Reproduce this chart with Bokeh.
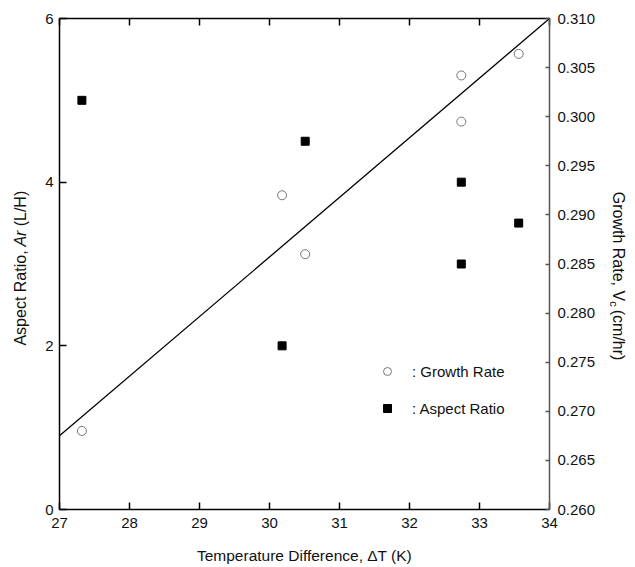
import math
from bokeh.plotting import figure
from bokeh.layouts import row
from bokeh.models import (Range1d, LinearAxis, FixedTicker, Legend,
                          LegendItem, NumeralTickFormatter, ColumnDataSource)
from bokeh.core.properties import value
from bokeh.embed import file_html
from bokeh.resources import INLINE

# ---- data ----
delta_t_ar = [27.32, 30.51, 30.18, 32.74, 33.56, 32.74]
aspect_ratio = [5.0, 4.5, 2.0, 4.0, 3.5, 3.0]
delta_t_gr = [27.32, 30.18, 30.51, 32.74, 32.74, 33.56]
growth_rate = [0.2680, 0.2920, 0.2860, 0.3042, 0.2995, 0.3064]
fit_x = [27.0, 34.0]
fit_y = [0.2675, 0.3100]

x_ticks = [27, 28, 29, 30, 31, 32, 33, 34]
ar_ticks = [0, 2, 4, 6]
gr_ticks = [0.260, 0.265, 0.270, 0.275, 0.280, 0.285, 0.290, 0.295, 0.300, 0.305, 0.310]

FONT = "Liberation Sans"
H = 567
LW, RW = 32, 30          # side strips holding the rotated axis titles
MW = 635 - LW - RW       # main figure width

p = figure(width=MW, height=H, output_backend="svg", toolbar_location=None,
           x_range=Range1d(27, 34), y_range=Range1d(0, 6),
           min_border_left=59 - LW, min_border_right=86 - RW, min_border_top=18,
           min_border_bottom=58, x_axis_location=None, y_axis_location=None)
p.extra_y_ranges = {"gr": Range1d(0.26, 0.31)}
p.grid.visible = False
p.outline_line_color = None
p.border_fill_color = "white"


def style_axis(ax, tick_in, standoff, color="black"):
    ax.major_tick_in = tick_in
    ax.major_tick_out = 0
    ax.minor_tick_line_color = None
    ax.axis_line_color = color
    ax.axis_line_width = 1.5
    ax.major_tick_line_color = color
    ax.major_tick_line_width = 1.5
    ax.major_label_text_font = FONT
    ax.major_label_text_font_size = "15px"
    ax.major_label_text_color = "#111111"
    ax.major_label_standoff = standoff


bottom = LinearAxis(ticker=FixedTicker(ticks=x_ticks))
style_axis(bottom, 7, 8)
bottom.axis_label = "Temperature Difference, \u0394T (K)"
bottom.axis_label_text_font = FONT
bottom.axis_label_text_font_size = "15.5px"
bottom.axis_label_text_font_style = "normal"
bottom.axis_label_text_color = "#111111"
bottom.axis_label_standoff = 16
p.add_layout(bottom, "below")

top = LinearAxis(ticker=FixedTicker(ticks=x_ticks))
style_axis(top, 7, 0)
top.major_label_text_color = None
p.add_layout(top, "above")

left = LinearAxis(ticker=FixedTicker(ticks=ar_ticks))
style_axis(left, 7, 6)
p.add_layout(left, "left")

right = LinearAxis(y_range_name="gr", ticker=FixedTicker(ticks=gr_ticks),
                   formatter=NumeralTickFormatter(format="0.000"))
style_axis(right, 4, 8, color="#555555")
p.add_layout(right, "right")

# fit line
p.line(fit_x, fit_y, y_range_name="gr", line_color="black", line_width=1.3)

gr_src = ColumnDataSource(dict(x=delta_t_gr, y=growth_rate))
ar_src = ColumnDataSource(dict(x=delta_t_ar, y=aspect_ratio))
r_gr = p.scatter("x", "y", source=gr_src, y_range_name="gr", marker="circle",
                 size=9, fill_color="white", line_color="#777777", line_width=1)
r_ar = p.scatter("x", "y", source=ar_src, marker="square", size=8,
                 fill_color="black", line_color="black")

legend = Legend(items=[LegendItem(label=": Growth Rate", renderers=[r_gr]),
                       LegendItem(label=": Aspect Ratio", renderers=[r_ar])],
                location=(318, 91), padding=0, spacing=17, glyph_width=20,
                glyph_height=20, label_height=20, label_standoff=15,
                border_line_color=None, background_fill_alpha=0,
                label_text_font=FONT, label_text_font_size="15px",
                label_text_color="#111111", margin=0)
p.add_layout(legend, "center")


def strip(w):
    f = figure(width=w, height=H, output_backend="svg", toolbar_location=None,
               x_range=Range1d(0, w), y_range=Range1d(0, H),
               min_border=0, x_axis_location=None, y_axis_location=None)
    f.grid.visible = False
    f.outline_line_color = None
    f.border_fill_color = "white"
    return f


def put(f, x, y, txt, angle, size, align="left", style="normal"):
    f.text(x=[x], y=[y], text=[txt], angle=angle, text_align=align,
           text_baseline="middle", text_font=value(FONT), text_font_size=size,
           text_font_style=style, text_color="#111111")


a = math.pi / 2
# left title: reads bottom to top
lf = strip(LW)
put(lf, 20, 299.2, "Aspect Ratio,", a, "16px", align="right")
put(lf, 20, 303.6, "Ar", a, "16px", style="italic")
put(lf, 20, 327.0, "(L/H)", a, "16px")

# right title: reads top to bottom
rf = strip(RW)
put(rf, 13, 240.6, "Growth Rate, V", -a, "16px", align="right")
put(rf, 8, 240.6, "c", -a, "11px")
put(rf, 13, 230.7, "(cm/hr)", -a, "16px")

layout = row(lf, p, rf, spacing=0)
open("out.html", "w").write(file_html(layout, INLINE))
